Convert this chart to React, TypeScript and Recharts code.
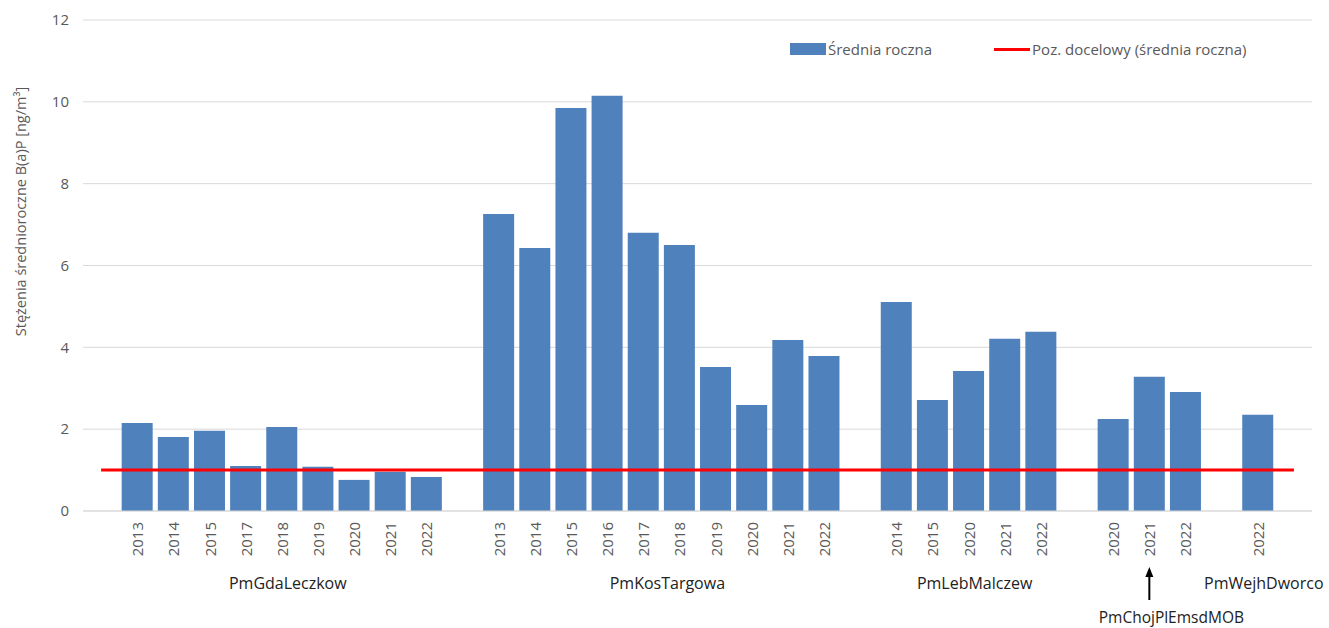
import { ComposedChart, Bar, Line, XAxis, YAxis, CartesianGrid } from 'recharts';

// station names (second level of the x axis)
const groupNames = ['PmGdaLeczkow', 'PmKosTargowa', 'PmLebMalczew', 'PmChojPlEmsdMOB', 'PmWejhDworco'];

const gdaYears = ['2013', '2014', '2015', '2017', '2018', '2019', '2020', '2021', '2022'];
const gdaValues = [2.15, 1.81, 1.96, 1.1, 2.05, 1.08, 0.76, 0.96, 0.83];

const kosYears = ['2013', '2014', '2015', '2016', '2017', '2018', '2019', '2020', '2021', '2022'];
const kosValues = [7.26, 6.43, 9.85, 10.15, 6.8, 6.5, 3.52, 2.59, 4.18, 3.79];

const lebYears = ['2014', '2015', '2020', '2021', '2022'];
const lebValues = [5.11, 2.71, 3.42, 4.21, 4.38];

const chojYears = ['2020', '2021', '2022'];
const chojValues = [2.25, 3.28, 2.91];

const wejhYears = ['2022'];
const wejhValues = [2.35];

const targetLevel = 1;
const yTicks = [0, 2, 4, 6, 8, 10, 12];

const groupYears = [gdaYears, kosYears, lebYears, chojYears, wejhYears];
const groupValues = [gdaValues, kosValues, lebValues, chojValues, wejhValues];

// one empty slot before, between and after the stations
type Slot = { key: string; year: string; value: number | null; target: number; pos: number };
const slots: Slot[] = [];
const groupCenters: number[] = [];
const pushEmpty = () =>
  slots.push({ key: `e${slots.length}`, year: '', value: null, target: targetLevel, pos: slots.length + 0.5 });
pushEmpty();
groupYears.forEach((years, g) => {
  const first = slots.length;
  years.forEach((yr, i) => {
    slots.push({ key: `g${g}-${yr}`, year: yr, value: groupValues[g][i], target: targetLevel, pos: slots.length + 0.5 });
  });
  groupCenters.push((first + slots.length) / 2);
  pushEmpty();
});

const yearByKey: Record<string, string> = {};
slots.forEach((s) => (yearByKey[s.key] = s.year));

const TEXT = '#595959';
const FONT = '"Open Sans", "DejaVu Sans", sans-serif';

const YearTick = ({ x, y, payload }: any) => {
  const yr = yearByKey[payload.value];
  if (!yr) return null;
  return (
    <text
      transform={`translate(${x},${y + 3}) rotate(-90)`}
      textAnchor="end"
      dominantBaseline="central"
      fill={TEXT}
      fontSize={15}
      fontFamily={FONT}
    >
      {yr}
    </text>
  );
};

const GroupTick = ({ x, y, payload }: any) => {
  const i = groupCenters.indexOf(payload.value);
  const name = groupNames[i];
  if (!name) return null;
  if (name === 'PmChojPlEmsdMOB') {
    return (
      <g>
        <line x1={x} y1={y + 26} x2={x} y2={y - 4} stroke="#000" strokeWidth={2} />
        <path d={`M${x - 4},${y + 3} L${x},${y - 7} L${x + 4},${y + 3} Z`} fill="#000" />
        <text x={x + 22} y={y + 49} textAnchor="middle" fill="#222" fontSize={15.5} fontFamily={FONT}>
          {name}
        </text>
      </g>
    );
  }
  return (
    <text x={x + 6} y={y + 15} textAnchor="middle" fill="#222" fontSize={16} fontFamily={FONT}>
      {name}
    </text>
  );
};

const AxisTitle = ({ viewBox }: any) => {
  const cx = viewBox.x + 20;
  const cy = viewBox.y + viewBox.height * 0.39;
  return (
    <text
      transform={`translate(${cx},${cy}) rotate(-90)`}
      textAnchor="middle"
      dominantBaseline="central"
      fill={TEXT}
      fontSize={14.5}
      fontFamily={FONT}
    >
      Stężenia średnioroczne B(a)P [ng/m³]
    </text>
  );
};

const App = () => {
  return (
    <div style={{ position: 'absolute', left: 0, top: 0, width: 1329, height: 628, background: '#fff', fontFamily: FONT }}>
      <ComposedChart
        width={1329}
        height={628}
        data={slots}
        margin={{ top: 20, right: 17, bottom: 0, left: 0 }}
        barCategoryGap="7%"
      >
        <CartesianGrid vertical={false} stroke="#d9d9d9" />
        <XAxis
          dataKey="key"
          interval={0}
          height={55}
          tick={<YearTick />}
          tickLine={false}
          axisLine={{ stroke: '#d9d9d9' }}
        />
        <XAxis
          xAxisId="g"
          type="number"
          dataKey="pos"
          domain={[0, slots.length]}
          ticks={groupCenters}
          interval={0}
          height={62}
          tick={<GroupTick />}
          tickLine={false}
          axisLine={false}
        />
        <YAxis
          domain={[0, 12]}
          ticks={yTicks}
          width={83}
          tickLine={false}
          axisLine={false}
          tickMargin={8}
          tick={{ fill: TEXT, fontSize: 15, fontFamily: FONT }}
          label={{ content: <AxisTitle /> }}
        />
        <Bar dataKey="value" fill="#4f81bd" isAnimationActive={false} />
        <Line
          dataKey="target"
          stroke="#ff0000"
          strokeWidth={3}
          dot={false}
          activeDot={false}
          isAnimationActive={false}
        />
      </ComposedChart>
      <div
        style={{
          position: 'absolute',
          left: 790,
          top: 39,
          display: 'flex',
          alignItems: 'center',
          fontSize: 15,
          color: TEXT,
          whiteSpace: 'nowrap',
        }}
      >
        <span style={{ display: 'inline-block', width: 36, height: 12, background: '#4f81bd', marginRight: 2 }} />
        <span style={{ marginRight: 62 }}>Średnia roczna</span>
        <span style={{ display: 'inline-block', width: 36, height: 3, background: '#ff0000', marginRight: 2 }} />
        <span>Poz. docelowy (średnia roczna)</span>
      </div>
    </div>
  );
};

export default App;
